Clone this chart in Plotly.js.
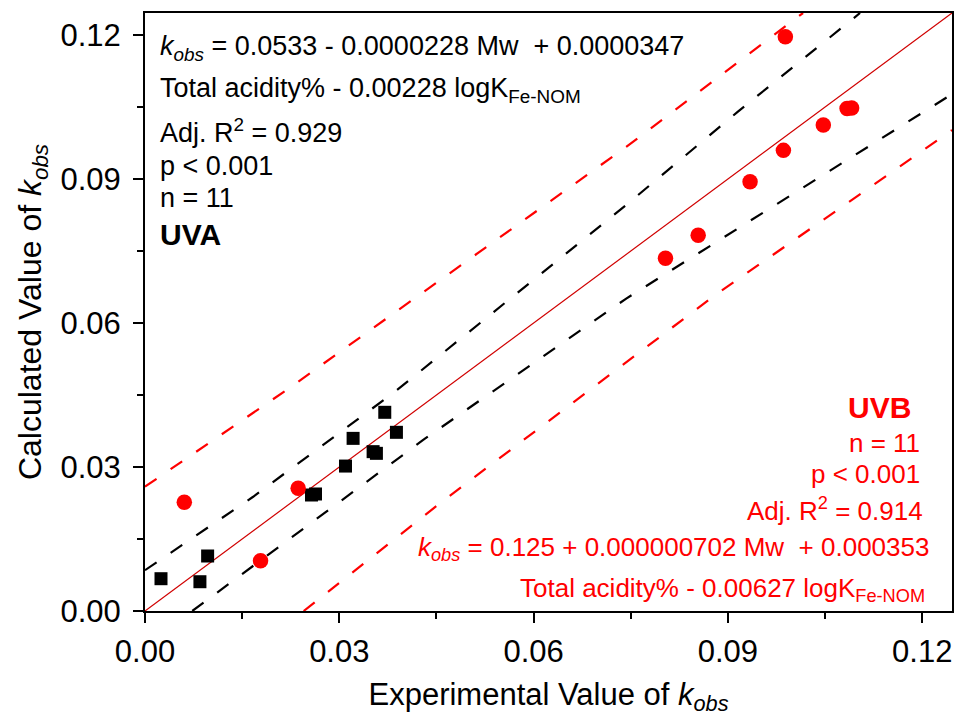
<!DOCTYPE html>
<html>
<head>
<meta charset="utf-8">
<script src="https://cdn.plot.ly/plotly-3.0.1.min.js"></script>
<style>html,body{margin:0;padding:0;background:#fff;}</style>
</head>
<body>
<div id="chart" style="width:955px;height:722px;"></div>
<script>
// UVA (squares) experimental vs calculated kobs
const uvaExp  = [0.00247, 0.00848, 0.00967, 0.02571, 0.02633, 0.03096, 0.03213, 0.03522, 0.03573, 0.03702, 0.03882];
const uvaCalc = [0.00673, 0.00610, 0.01146, 0.02417, 0.02438, 0.03020, 0.03597, 0.03320, 0.03285, 0.04140, 0.03723];
// UVB (circles)
const uvbExp  = [0.00607, 0.01784, 0.02365, 0.08036, 0.08541, 0.09342, 0.09857, 0.10473, 0.10840, 0.10910, 0.09887];
const uvbCalc = [0.02264, 0.01048, 0.02556, 0.07348, 0.07827, 0.08944, 0.09598, 0.10125, 0.10470, 0.10480, 0.11965];
// 1:1 line
const oneX = [0, 0.1246];
const oneY = [0, 0.1246];
// UVA prediction bands (black dashed)
const uvaUpX = [0, 0.0167, 0.0386, 0.0743, 0.0915, 0.1104];
const uvaUpY = [0.0085, 0.0238, 0.0457, 0.0846, 0.1040, 0.1246];
const uvaLoX = [0.0073, 0.0429, 0.0743, 0.1206, 0.1246];
const uvaLoY = [0.0000, 0.0356, 0.0651, 0.1044, 0.1077];
// UVB prediction bands (red dashed)
const uvbUpX = [0, 0.02185, 0.0743, 0.1005, 0.1016];
const uvbUpY = [0.0259, 0.04604, 0.0967, 0.1235, 0.1246];
const uvbLoX = [0.0245, 0.0455, 0.0877, 0.1213, 0.1246];
const uvbLoY = [0.0000, 0.0224, 0.0655, 0.0971, 0.1002];
const tickVals = [0, 0.03, 0.06, 0.09, 0.12];
const tickText = ["0.00", "0.03", "0.06", "0.09", "0.12"];

const FONT = "Liberation Sans, Arial, Helvetica, sans-serif";
const RED = "#ff0000";
const DASH = "14px,17px";

const traces = [
  {x: uvbUpX, y: uvbUpY, mode: "lines", line: {color: RED, width: 2.2, dash: DASH}, hoverinfo: "skip"},
  {x: uvbLoX, y: uvbLoY, mode: "lines", line: {color: RED, width: 2.2, dash: DASH}, hoverinfo: "skip"},
  {x: uvaUpX, y: uvaUpY, mode: "lines", line: {color: "#000", width: 2.2, dash: DASH}, hoverinfo: "skip"},
  {x: uvaLoX, y: uvaLoY, mode: "lines", line: {color: "#000", width: 2.2, dash: DASH}, hoverinfo: "skip"},
  {x: oneX, y: oneY, mode: "lines", line: {color: "#d00000", width: 1.2}, hoverinfo: "skip"},
  {x: uvaExp, y: uvaCalc, mode: "markers", marker: {symbol: "square", size: 13, color: "#000"}},
  {x: uvbExp, y: uvbCalc, mode: "markers", marker: {symbol: "circle", size: 15.5, color: RED}}
];

// pixel helpers for annotation placement
const L = 145, R = 952, T = 13, B = 611;
const px = v => (v - L) / (R - L);
const py = v => (B - v) / (B - T);

function ann(text, xPix, yPix, align, color, size) {
  return {text: text, xref: "paper", yref: "paper", x: px(xPix), y: py(yPix),
    xanchor: align, yanchor: "middle", align: align, showarrow: false,
    font: {family: FONT, size: size || 27, color: color}};
}
const KOBS = "<i>k</i><sub><i>obs</i></sub>";
const annotations = [
  ann(KOBS + " = 0.0533 - 0.0000228 Mw&nbsp; + 0.0000347", 158, 48, "left", "#000"),
  ann("Total acidity% - 0.00228 logK<sub>Fe-NOM</sub>", 158, 90, "left", "#000"),
  ann("Adj. R<sup>2</sup> = 0.929", 158, 131, "left", "#000"),
  ann("p &lt; 0.001", 158, 166, "left", "#000"),
  ann("n = 11", 158, 198, "left", "#000"),
  ann("<b>UVA</b>", 158, 235, "left", "#000", 30),
  ann("<b>UVB</b>", 913, 407, "right", RED, 30),
  ann("n = 11", 922, 443, "right", RED, 26),
  ann("p &lt; 0.001", 922, 474, "right", RED, 26),
  ann("Adj. R<sup>2</sup> = 0.914", 925, 509, "right", RED, 26),
  ann(KOBS + " = 0.125 + 0.000000702 Mw&nbsp; + 0.000353", 931, 548, "right", RED, 26),
  ann("Total acidity% - 0.00627 logK<sub>Fe-NOM</sub>", 927, 589, "right", RED, 26)
];

const axisCommon = {
  range: [0, 0.1246], tickvals: tickVals, ticktext: tickText,
  ticks: "outside", ticklen: 10, tickwidth: 2, tickcolor: "#000",
  showline: true, linecolor: "#000", linewidth: 2, mirror: true,
  showgrid: false, zeroline: false,
  tickfont: {family: FONT, size: 31, color: "#000"},
  minor: {ticks: "outside", dtick: 0.015, tick0: 0, ticklen: 6, tickwidth: 2, tickcolor: "#000", showgrid: false}
};

const layout = {
  width: 955, height: 722, autosize: false,
  margin: {l: L, r: 955 - R, t: T, b: 722 - B, pad: 0},
  paper_bgcolor: "#fff", plot_bgcolor: "#fff",
  showlegend: false,
  xaxis: Object.assign({}, axisCommon, {
    ticklabelstandoff: 2,
    title: {text: "Experimental Value of " + KOBS, font: {family: FONT, size: 31, color: "#000"}, standoff: 15}
  }),
  yaxis: Object.assign({}, axisCommon, {
    ticklabelstandoff: 6,
    title: {text: "Calculated Value of " + KOBS, font: {family: FONT, size: 32, color: "#000"}, standoff: 9}
  }),
  annotations: annotations
};

Plotly.newPlot("chart", traces, layout, {displayModeBar: false, staticPlot: true});
</script>
</body>
</html>
